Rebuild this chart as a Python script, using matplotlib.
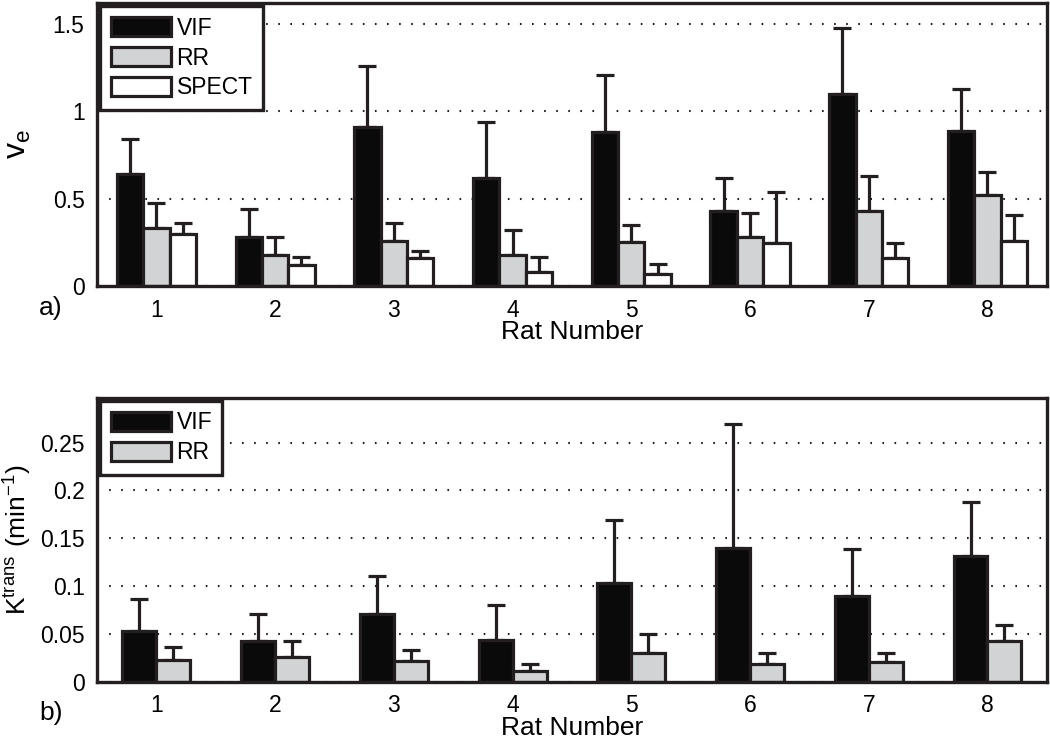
import numpy as np
import matplotlib
matplotlib.use('Agg')
import matplotlib.pyplot as plt
from matplotlib.ticker import FormatStrFormatter

plt.rcParams['font.family'] = ['Liberation Sans', 'DejaVu Sans']
plt.rcParams['mathtext.fontset'] = 'custom'
plt.rcParams['mathtext.rm'] = 'Liberation Sans'

# data
rats = [1, 2, 3, 4, 5, 6, 7, 8]

ve_vif = [0.641, 0.279, 0.912, 0.616, 0.880, 0.429, 1.099, 0.889]
ve_vif_err = [0.199, 0.160, 0.347, 0.321, 0.328, 0.187, 0.380, 0.239]
ve_rr = [0.334, 0.177, 0.259, 0.177, 0.250, 0.279, 0.429, 0.521]
ve_rr_err = [0.139, 0.102, 0.103, 0.143, 0.099, 0.141, 0.201, 0.133]
ve_spect = [0.300, 0.120, 0.158, 0.078, 0.067, 0.248, 0.158, 0.259]
ve_spect_err = [0.062, 0.048, 0.044, 0.090, 0.059, 0.288, 0.086, 0.147]

kt_vif = [0.0533, 0.0428, 0.0707, 0.0435, 0.1027, 0.1400, 0.0898, 0.1316]
kt_vif_err = [0.0334, 0.0276, 0.0400, 0.0365, 0.0669, 0.1299, 0.0488, 0.0564]
kt_rr = [0.0227, 0.0261, 0.0216, 0.0115, 0.0303, 0.0185, 0.0202, 0.0425]
kt_rr_err = [0.0133, 0.0164, 0.0112, 0.0070, 0.0192, 0.0118, 0.0101, 0.0167]

edge = '#231f20'
black = '#0a0a0a'
grey = '#d1d3d4'
fs_tick = 16.5   # tick labels
fs_leg = 16.5    # legend
fs_lab = 19      # axis labels

fig = plt.figure(figsize=(10.5, 7.4), dpi=100)
ax1 = fig.add_axes([0.0924, 0.6135, 0.9046, 0.3825])
ax2 = fig.add_axes([0.0924, 0.0788, 0.9046, 0.3838])


def draw_bars(ax, series, errs, colors, labels, width):
    x = np.array(rats, dtype=float)
    n = len(series)
    for i in range(n):
        off = (i - (n - 1) / 2) * width
        ax.bar(x + off, series[i], width, color=colors[i], edgecolor=edge,
               linewidth=2.3, label=labels[i], zorder=2)
        ax.errorbar(x + off, series[i], yerr=[np.zeros(len(x)), errs[i]],
                    fmt='none', ecolor=edge, elinewidth=2.3, capsize=6.5,
                    capthick=2.3, zorder=1)


def style_axes(ax, ymax, yticks):
    ax.set_xlim(0.5, 8.5)
    ax.set_ylim(0, ymax)
    ax.set_xticks(rats)
    ax.set_yticks(yticks)
    ax.yaxis.set_major_formatter(FormatStrFormatter('%g'))
    ax.tick_params(length=0, labelsize=fs_tick, pad=9)
    ax.grid(axis='y', color=edge, linestyle=(0, (0.8, 5.0)), linewidth=1.5)
    ax.set_axisbelow(True)
    for s in ax.spines.values():
        s.set_linewidth(2.4)
        s.set_color(edge)
    ax.set_xlabel('Rat Number', fontsize=fs_lab, labelpad=-1)


draw_bars(ax1, [ve_vif, ve_rr, ve_spect], [ve_vif_err, ve_rr_err, ve_spect_err],
          [black, grey, 'white'], ['VIF', 'RR', 'SPECT'], 0.222)
style_axes(ax1, 1.62, [0, 0.5, 1, 1.5])
ax1.set_ylabel(r'$\mathregular{v_e}$', fontsize=23, labelpad=14)

draw_bars(ax2, [kt_vif, kt_rr], [kt_vif_err, kt_rr_err],
          [black, grey], ['VIF', 'RR'], 0.286)
style_axes(ax2, 0.297, [0, 0.05, 0.1, 0.15, 0.2, 0.25])
ax2.set_ylabel(r'$\mathregular{K^{trans}\ (min^{-1})}$', fontsize=19, labelpad=4)

for ax in (ax1, ax2):
    leg = ax.legend(loc='upper left', fontsize=fs_leg, handlelength=2.65,
                    handleheight=0.9, handletextpad=0.22, labelspacing=0.3,
                    borderpad=0.45, borderaxespad=0.15, fancybox=False,
                    framealpha=1, edgecolor=edge)
    leg.get_frame().set_linewidth(2.4)
    leg.set_zorder(5)

fig.text(51 / 1050, 1 - 308 / 740, 'a)', fontsize=fs_lab, ha='center', va='center')
fig.text(51 / 1050, 1 - 713 / 740, 'b)', fontsize=fs_lab, ha='center', va='center')

fig.savefig('out.png', dpi=100)
